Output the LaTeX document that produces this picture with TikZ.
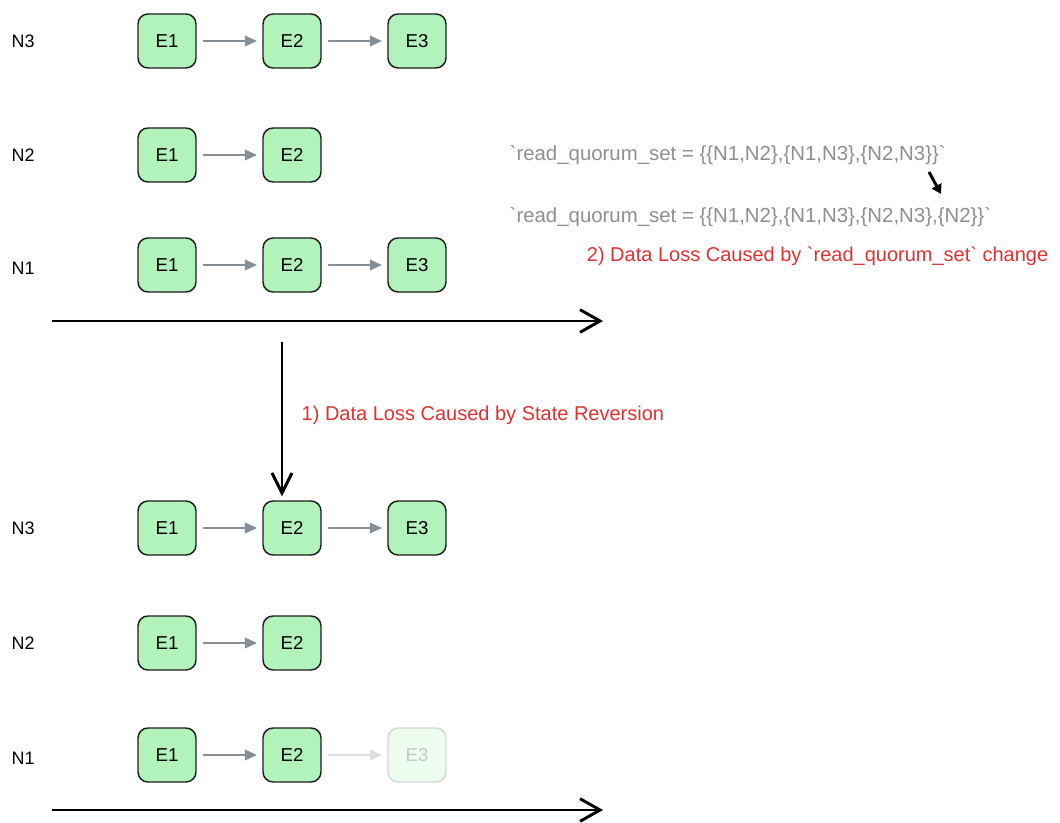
\documentclass[tikz,border=0pt]{standalone}
\usepackage{fontspec}
\setmainfont{Liberation Sans}
\usetikzlibrary{arrows.meta}
\definecolor{entryfill}{HTML}{B2F2BB}
\definecolor{entryline}{HTML}{1E1E1E}
\definecolor{linkgray}{HTML}{868E96}
\definecolor{notered}{HTML}{E03131}
\definecolor{quorumgray}{HTML}{8F8F8F}
\newcommand{\tick}{\textasciigrave}

\begin{document}
\begin{tikzpicture} [x = 0.75pt, y = -0.75pt,
	entry/.style = {draw = entryline, fill = entryfill, line width = 1.1pt, rounded corners = 7.5pt,
		minimum width = 43.5pt, minimum height = 40.5pt, font = \fontsize{14}{16}\selectfont},
	lost/.style = {entry, draw = entryline!18, fill = entryfill!25, text = black!22},
	nodelabel/.style = {anchor = west, font = \fontsize{13.5}{16}\selectfont},
	link/.style = {draw = linkgray, line width = 1.1pt, -{Triangle[length = 9pt, width = 8pt]},
		shorten < = 5pt, shorten > = 4pt},
	timeline/.style = {line width = 2.2pt, -{Straight Barb[length = 15pt, width = 17pt]}},
	quorum/.style = {anchor = west, text = quorumgray, font = \fontsize{15.3}{18}\selectfont},
	note/.style = {text = notered, font = \fontsize{15}{18}\selectfont}]
	\useasboundingbox (0,0) rectangle (1060,823);

	% before
	\node [nodelabel] (a3) at (7,41) {N3};
	\node [nodelabel] (a2) at (7,155) {N2};
	\node [nodelabel] (a1) at (7,268) {N1};

	\node [entry] (a3e1) at (167,41) {E1};
	\node [entry] (a3e2) at (292,41) {E2};
	\node [entry] (a3e3) at (417,41) {E3};
	\draw [link] (a3e1) -- (a3e2);
	\draw [link] (a3e2) -- (a3e3);

	\node [entry] (a2e1) at (167,155) {E1};
	\node [entry] (a2e2) at (292,155) {E2};
	\draw [link] (a2e1) -- (a2e2);

	\node [entry] (a1e1) at (167,265) {E1};
	\node [entry] (a1e2) at (292,265) {E2};
	\node [entry] (a1e3) at (417,265) {E3};
	\draw [link] (a1e1) -- (a1e2);
	\draw [link] (a1e2) -- (a1e3);

	\coordinate (ta0) at (52,321);
	\coordinate (ta1) at (603,321);
	\draw [timeline] (ta0) -- (ta1);

	% quorum change
	\node [quorum] (q1) at (505,155) {\tick read\_quorum\_set = \{\{N1,N2\},\{N1,N3\},\{N2,N3\}\}\tick};
	\node [quorum] (q2) at (505,217) {\tick read\_quorum\_set = \{\{N1,N2\},\{N1,N3\},\{N2,N3\},\{N2\}\}\tick};
	\coordinate (qa0) at (929,172);
	\coordinate (qa1) at (941,194);
	\draw [line width = 2.2pt, -{Triangle[length = 7pt, width = 8pt]}] (qa0) -- (qa1);
	\node [note, anchor = east] (n2) at (1053,256) {2) Data Loss Caused by \tick read\_quorum\_set\tick{} change};

	% reversion
	\coordinate (rv) at (282,342);
	\node [entry] (b3e1) at (167,528) {E1};
	\node [entry] (b3e2) at (292,528) {E2};
	\node [entry] (b3e3) at (417,528) {E3};
	\draw [timeline, -{Straight Barb[length = 15pt, width = 15pt]}, shorten > = 3pt] (rv) -- (b3e2.north -| rv);
	\node [note, anchor = west] (n1) at (297,415) {1) Data Loss Caused by State Reversion};

	% after
	\node [nodelabel] (b3) at (7,528) {N3};
	\node [nodelabel] (b2) at (7,643) {N2};
	\node [nodelabel] (b1) at (7,758) {N1};

	\draw [link] (b3e1) -- (b3e2);
	\draw [link] (b3e2) -- (b3e3);

	\node [entry] (b2e1) at (167,643) {E1};
	\node [entry] (b2e2) at (292,643) {E2};
	\draw [link] (b2e1) -- (b2e2);

	\node [entry] (b1e1) at (167,755) {E1};
	\node [entry] (b1e2) at (292,755) {E2};
	\node [lost] (b1e3) at (417,755) {E3};
	\draw [link] (b1e1) -- (b1e2);
	\draw [link, draw = linkgray!30] (b1e2) -- (b1e3);

	\coordinate (tb0) at (52,810);
	\coordinate (tb1) at (603,810);
	\draw [timeline] (tb0) -- (tb1);
\end{tikzpicture}
\end{document}
